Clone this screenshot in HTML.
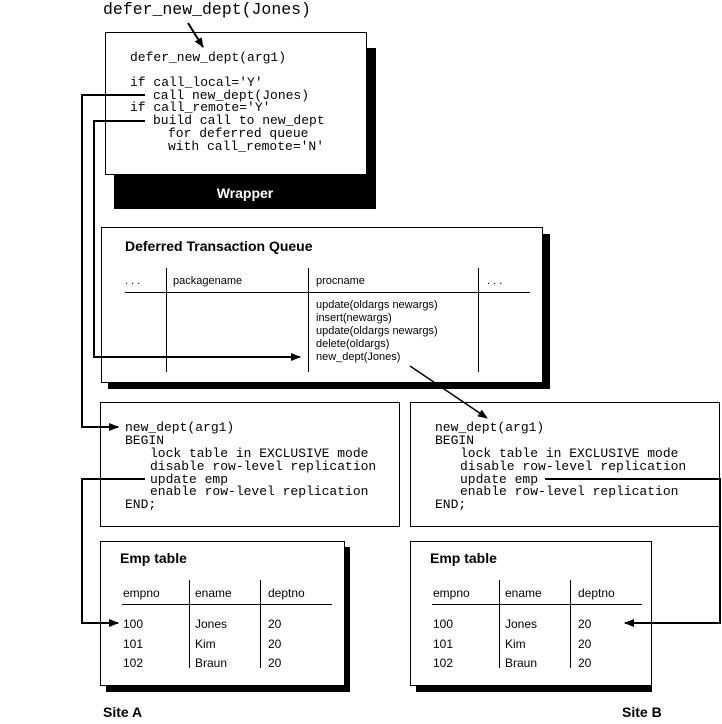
<!DOCTYPE html>
<html><head><style>
html,body{margin:0;padding:0;background:#fff;}
svg{display:block;}
.m{font-family:"Liberation Mono",monospace;font-size:13px;}
.s{font-family:"Liberation Sans",sans-serif;font-size:11px;}
.b{font-family:"Liberation Sans",sans-serif;font-weight:bold;font-size:14px;}
</style></head><body>
<svg width="722" height="724" viewBox="0 0 722 724" xmlns="http://www.w3.org/2000/svg">
<defs>
<marker id="a" markerWidth="10" markerHeight="8" refX="9" refY="4" orient="auto" markerUnits="userSpaceOnUse">
<path d="M0,0 L10,4 L0,8 z" fill="#000"/></marker>
</defs>
<text x="103" y="14" font-family="Liberation Mono,monospace" font-size="16.5">defer_new_dept(Jones)</text>
<rect x="114" y="48" width="262" height="161" fill="#000"/>
<rect x="105.5" y="32.5" width="261" height="142" fill="#fff" stroke="#000"/>
<text x="245" y="198" fill="#fff" class="b" text-anchor="middle">Wrapper</text>
<line x1="188" y1="23" x2="203" y2="47" stroke="#000" stroke-width="2" marker-end="url(#a)"/>
<g class="m">
<text x="130" y="61">defer_new_dept(arg1)</text>
<text x="130" y="86">if call_local='Y'</text>
<text x="153" y="99">call new_dept(Jones)</text>
<text x="130" y="111">if call_remote='Y'</text>
<text x="153" y="124">build call to new_dept</text>
<text x="168" y="137">for deferred queue</text>
<text x="168" y="150">with call_remote='N'</text>
</g>
<rect x="108" y="234" width="442" height="155" fill="#000"/>
<rect x="101.5" y="227.5" width="441" height="155" fill="#fff" stroke="#000"/>
<text x="125" y="251" class="b">Deferred Transaction Queue</text>
<line x1="125" y1="292.5" x2="530" y2="292.5" stroke="#000"/>
<line x1="166.5" y1="268" x2="166.5" y2="372" stroke="#000"/>
<line x1="308.5" y1="268" x2="308.5" y2="372" stroke="#000"/>
<line x1="478.5" y1="268" x2="478.5" y2="372" stroke="#000"/>
<g class="s">
<text x="125" y="284">. . .</text>
<text x="173" y="284">packagename</text>
<text x="316" y="284">procname</text>
<text x="487" y="284">. . .</text>
<text x="316" y="308">update(oldargs newargs)</text>
<text x="316" y="321">insert(newargs)</text>
<text x="316" y="334">update(oldargs newargs)</text>
<text x="316" y="347">delete(oldargs)</text>
<text x="316" y="360">new_dept(Jones)</text>
</g>
<rect x="100.5" y="402.5" width="299" height="124" fill="#fff" stroke="#000"/>
<rect x="410.5" y="402.5" width="309" height="124" fill="#fff" stroke="#000"/>
<line x1="410" y1="366" x2="487" y2="418" stroke="#000" stroke-width="1.5" marker-end="url(#a)"/>
<g class="m">
<text x="125" y="431">new_dept(arg1)</text>
<text x="125" y="444">BEGIN</text>
<text x="150" y="457">lock table in EXCLUSIVE mode</text>
<text x="150" y="470">disable row-level replication</text>
<text x="150" y="483">update emp</text>
<text x="150" y="495">enable row-level replication</text>
<text x="125" y="508">END;</text>
<text x="435" y="431">new_dept(arg1)</text>
<text x="435" y="444">BEGIN</text>
<text x="460" y="457">lock table in EXCLUSIVE mode</text>
<text x="460" y="470">disable row-level replication</text>
<text x="460" y="483">update emp</text>
<text x="460" y="495">enable row-level replication</text>
<text x="435" y="508">END;</text>
</g>
<g>
<rect x="106" y="547" width="244" height="145" fill="#000"/>
<rect x="100.5" y="541.5" width="244" height="144" fill="#fff" stroke="#000"/>
<text x="120" y="563" class="b">Emp table</text>
<line x1="122" y1="604.5" x2="332" y2="604.5" stroke="#000"/>
<line x1="189.5" y1="580" x2="189.5" y2="668" stroke="#000"/>
<line x1="260.5" y1="580" x2="260.5" y2="668" stroke="#000"/>
<g class="s" style="font-size:12px">
<text x="123" y="597">empno</text><text x="195" y="597">ename</text><text x="268" y="597">deptno</text>
<text x="123" y="628">100</text><text x="195" y="628">Jones</text><text x="268" y="628">20</text>
<text x="123" y="648">101</text><text x="195" y="648">Kim</text><text x="268" y="648">20</text>
<text x="123" y="667">102</text><text x="195" y="667">Braun</text><text x="268" y="667">20</text>
</g>
</g>
<g transform="translate(310,0)">
<rect x="106" y="547" width="236" height="145" fill="#000"/>
<rect x="100.5" y="541.5" width="241" height="144" fill="#fff" stroke="#000"/>
<text x="120" y="563" class="b">Emp table</text>
<line x1="122" y1="604.5" x2="332" y2="604.5" stroke="#000"/>
<line x1="189.5" y1="580" x2="189.5" y2="668" stroke="#000"/>
<line x1="260.5" y1="580" x2="260.5" y2="668" stroke="#000"/>
<g class="s" style="font-size:12px">
<text x="123" y="597">empno</text><text x="195" y="597">ename</text><text x="268" y="597">deptno</text>
<text x="123" y="628">100</text><text x="195" y="628">Jones</text><text x="268" y="628">20</text>
<text x="123" y="648">101</text><text x="195" y="648">Kim</text><text x="268" y="648">20</text>
<text x="123" y="667">102</text><text x="195" y="667">Braun</text><text x="268" y="667">20</text>
</g>
</g>
<g fill="none" stroke="#000" stroke-width="2">
<polyline points="145,95 82,95 82,427 118,427" marker-end="url(#a)"/>
<polyline points="145,121 94,121 94,357 300,357" marker-end="url(#a)"/>
<polyline points="145,479 82,479 82,623 118,623" marker-end="url(#a)"/>
<polyline points="545,479 720,479 720,623 625,623" marker-end="url(#a)"/>
</g>
<text x="103" y="717" class="b">Site A</text>
<text x="622" y="717" class="b">Site B</text>
</svg>
</body></html>
